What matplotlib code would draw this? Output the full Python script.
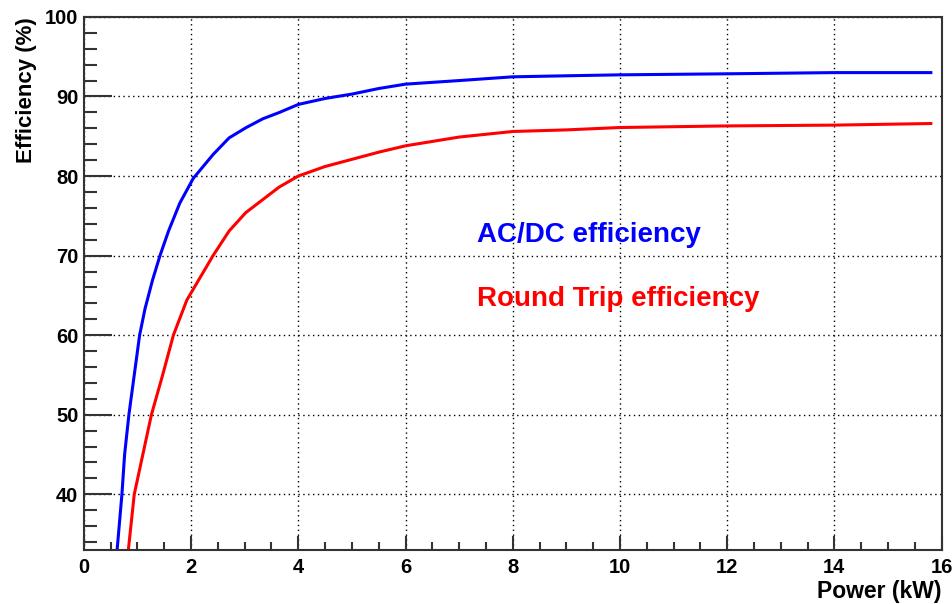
import matplotlib
matplotlib.use("Agg")
import matplotlib.pyplot as plt

plt.rcParams['font.family'] = ['Liberation Sans', 'DejaVu Sans']
plt.rcParams['font.weight'] = 'bold'

# values
power_acdc = [0.62, 0.71, 0.76, 0.84, 0.94, 1.04, 1.14, 1.28, 1.42, 1.58, 1.79,
              2.04, 2.41, 2.71, 3.03, 3.34, 3.65, 4.0, 4.5, 5.0, 5.5, 6.0, 7.0,
              8.0, 9.0, 10.0, 12.0, 14.0, 15.8]
eff_acdc = [33, 40, 45, 50, 55, 60, 63.3, 66.9, 70, 73.1, 76.6,
            79.7, 82.7, 84.8, 86.1, 87.2, 88.0, 89.0, 89.75, 90.3, 91.0, 91.55, 92.0,
            92.47, 92.6, 92.72, 92.85, 93.0, 93.0]

power_rt = [0.83, 0.94, 1.10, 1.26, 1.47, 1.67, 1.92, 2.41, 2.71, 3.02, 3.33,
            3.64, 4.0, 4.5, 5.0, 5.5, 6.0, 7.0, 8.0, 9.0, 10.0, 12.0, 14.0, 15.8]
eff_rt = [33, 40, 45, 50, 55, 60, 64.4, 70.0, 73.1, 75.4, 77.0,
          78.6, 80.0, 81.2, 82.1, 83.0, 83.8, 84.9, 85.6, 85.8, 86.1, 86.3, 86.4, 86.6]

xticks = [0, 2, 4, 6, 8, 10, 12, 14, 16]
yticks = [40, 50, 60, 70, 80, 90, 100]

fig = plt.figure(figsize=(9.53, 6.04), dpi=100)
ax = fig.add_axes([0.088, 0.0894, 0.9, 0.8826])

ax.plot(power_acdc, eff_acdc, color='#0000ff', lw=2.2)
ax.plot(power_rt, eff_rt, color='#ff0000', lw=2.2)

ax.set_xlim(0, 16)
ax.set_ylim(33, 100)
ax.set_xticks(xticks)
ax.set_yticks(yticks)
ax.set_xticks([x / 2 for x in range(1, 32)], minor=True)
ax.set_yticks(list(range(34, 100, 2)), minor=True)

ax.grid(True, which='major', color='black', linestyle=(0, (1, 2.5)), lw=1)

for s in ax.spines.values():
    s.set_color('#333333')
    s.set_linewidth(1.5)

ax.tick_params(axis='both', which='both', direction='in', labelsize=14.5,
               color='#333333', width=1.5, top=False, right=False)
ax.tick_params(axis='y', which='major', length=20, pad=4)
ax.tick_params(axis='y', which='minor', length=9.5)
ax.tick_params(axis='x', which='major', length=10, pad=6)
ax.tick_params(axis='x', which='minor', length=6)

ax.set_xlabel('Power (kW)', fontsize=16.5, fontweight='bold', loc='right', labelpad=2)
ax.set_ylabel('Efficiency (%)', fontsize=16, fontweight='bold', loc='top', labelpad=6)

ax.text(7.34, 72.6, 'AC/DC efficiency', color='#0000ff', fontsize=20,
        fontweight='bold', va='center', ha='left')
ax.text(7.34, 64.5, 'Round Trip efficiency', color='#ff0000', fontsize=20,
        fontweight='bold', va='center', ha='left')

fig.savefig('out.png', dpi=100)
